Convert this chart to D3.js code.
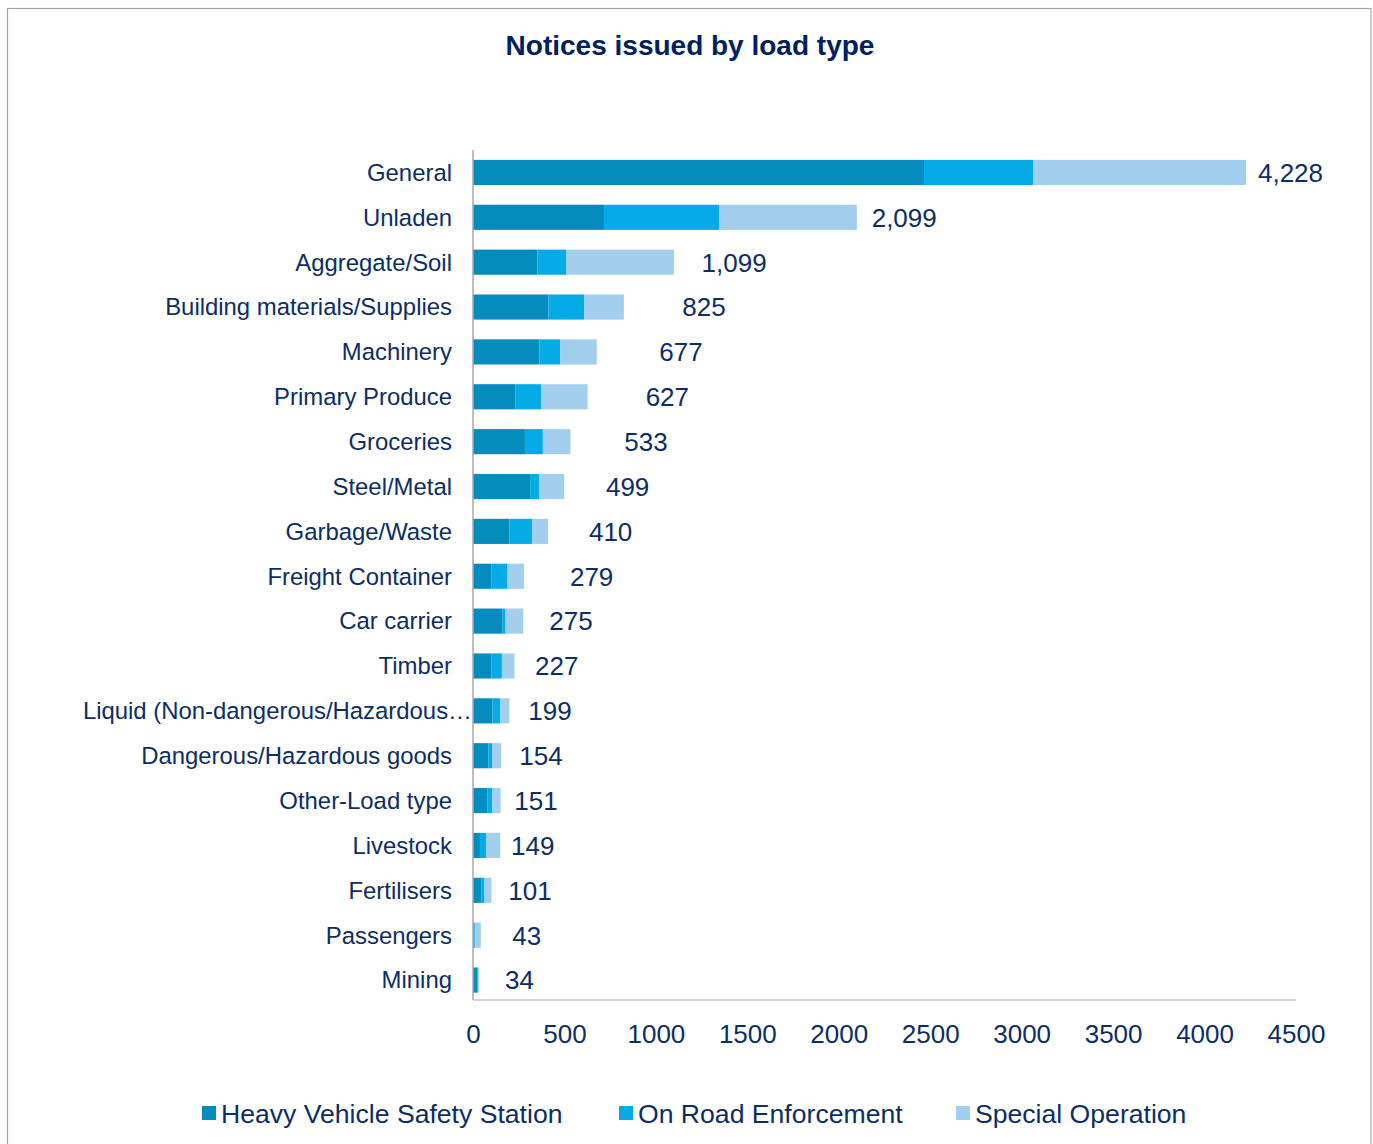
<!DOCTYPE html>
<html>
<head>
<meta charset="utf-8">
<script src="https://cdn.jsdelivr.net/npm/d3@7"></script>
<style>
  html, body { margin: 0; padding: 0; background: #fff; }
  svg { display: block; font-family: "Liberation Sans", Arial, sans-serif; }
</style>
</head>
<body>
<svg id="chart" width="1373" height="1144"></svg>
<script>
// ---- data ----
const categories = ["General","Unladen","Aggregate/Soil","Building materials/Supplies","Machinery","Primary Produce","Groceries","Steel/Metal","Garbage/Waste","Freight Container","Car carrier","Timber","Liquid (Non-dangerous/Hazardous…","Dangerous/Hazardous goods","Other-Load type","Livestock","Fertilisers","Passengers","Mining"];
const seriesNames = ["Heavy Vehicle Safety Station","On Road Enforcement","Special Operation"];
const hvss = [2466, 716, 352, 412, 363, 231, 284, 312, 199, 100, 160, 100, 106, 84, 78, 38, 45, 4, 24];
const ore  = [596, 629, 159, 195, 113, 142, 98, 51, 124, 89, 18, 58, 44, 20, 26, 33, 18, 6, 4];
const so   = [1166, 754, 588, 218, 201, 254, 151, 136, 87, 90, 97, 69, 49, 50, 47, 78, 38, 33, 6];
const totals = [4228, 2099, 1099, 825, 677, 627, 533, 499, 410, 279, 275, 227, 199, 154, 151, 149, 101, 43, 34];
// where each total label starts, in axis units (as placed in the source chart)
const labelAt = [4292, 2180, 1250, 1144, 1019, 944, 827, 727, 634, 530, 417, 339, 302, 253, 226, 208, 193, 215, 175];
const xTicks = [0, 500, 1000, 1500, 2000, 2500, 3000, 3500, 4000, 4500];
const title = "Notices issued by load type";

// ---- layout ----
const svg = d3.select("#chart");
const plot = { left: 473, right: 1296, top: 150, bottom: 1000 };
const colors = ["#048cbd", "#05abe6", "#a3cfee"];
const textColor = "#0c2d67";

svg.append("rect").attr("x", 7.5).attr("y", 8.5).attr("width", 1363.5).attr("height", 1150)
  .attr("fill", "#fff").attr("stroke", "#a3a3ad").attr("stroke-width", 1.2);

svg.append("text").attr("x", 690).attr("y", 55).attr("text-anchor", "middle")
  .attr("font-size", 28).attr("font-weight", "bold").attr("fill", "#002060").text(title);

const x = d3.scaleLinear().domain([0, 4500]).range([plot.left, plot.right]);
const y = d3.scaleBand().domain(categories).range([plot.top, plot.bottom + 2.5]).paddingInner(0.44).paddingOuter(0.22);

const rows = categories.map((c, i) => ({ cat: c, s0: hvss[i], s1: ore[i], s2: so[i] }));
const stack = d3.stack().keys(["s0", "s1", "s2"])(rows);

svg.append("g").selectAll("g").data(stack).join("g")
  .attr("fill", (d, i) => colors[i])
  .selectAll("rect").data(d => d).join("rect")
  .attr("x", d => x(d[0]))
  .attr("width", d => Math.max(0, x(d[1]) - x(d[0])))
  .attr("y", d => y(d.data.cat))
  .attr("height", y.bandwidth());

// axes lines
svg.append("line").attr("x1", plot.left).attr("x2", plot.left).attr("y1", plot.top).attr("y2", plot.bottom)
  .attr("stroke", "#a6a6ae").attr("stroke-width", 1.5);
svg.append("line").attr("x1", plot.left).attr("x2", plot.right).attr("y1", plot.bottom).attr("y2", plot.bottom)
  .attr("stroke", "#a6a6ae").attr("stroke-width", 1.2);

// category labels
svg.append("g").selectAll("text").data(categories).join("text")
  .attr("x", d => d.endsWith("…") ? plot.left - 1 : plot.left - 21)
  .attr("y", d => y(d) + y.bandwidth() / 2)
  .attr("dy", "0.35em").attr("text-anchor", "end")
  .attr("font-size", 23.9).attr("fill", textColor).text(d => d);

// tick labels
const xAxis = d3.axisBottom(x).tickValues(xTicks).tickSize(0).tickPadding(0).tickFormat(d3.format("d"));
const gx = svg.append("g").attr("transform", `translate(0,${plot.bottom})`).call(xAxis);
gx.select(".domain").remove();
gx.selectAll("text").attr("font-size", 26).attr("fill", textColor)
  .attr("font-family", "'Liberation Sans', Arial, sans-serif").attr("y", 43).attr("dy", 0);

// total labels
const fmt = d3.format(",");
svg.append("g").selectAll("text").data(totals).join("text")
  .attr("x", (d, i) => x(labelAt[i]))
  .attr("y", (d, i) => y(categories[i]) + y.bandwidth() / 2)
  .attr("dy", "0.36em").attr("font-size", 26).attr("fill", textColor)
  .text(d => fmt(d));

// legend
const legendX = [202, 619, 956];
const lg = svg.append("g").selectAll("g").data(seriesNames).join("g")
  .attr("transform", (d, i) => `translate(${legendX[i]},1106)`);
lg.append("rect").attr("width", 14).attr("height", 14).attr("fill", (d, i) => colors[i]);
lg.append("text").attr("x", 19).attr("y", 7).attr("dy", "0.36em")
  .attr("font-size", 26.6).attr("fill", textColor).text(d => d);
</script>
</body>
</html>
